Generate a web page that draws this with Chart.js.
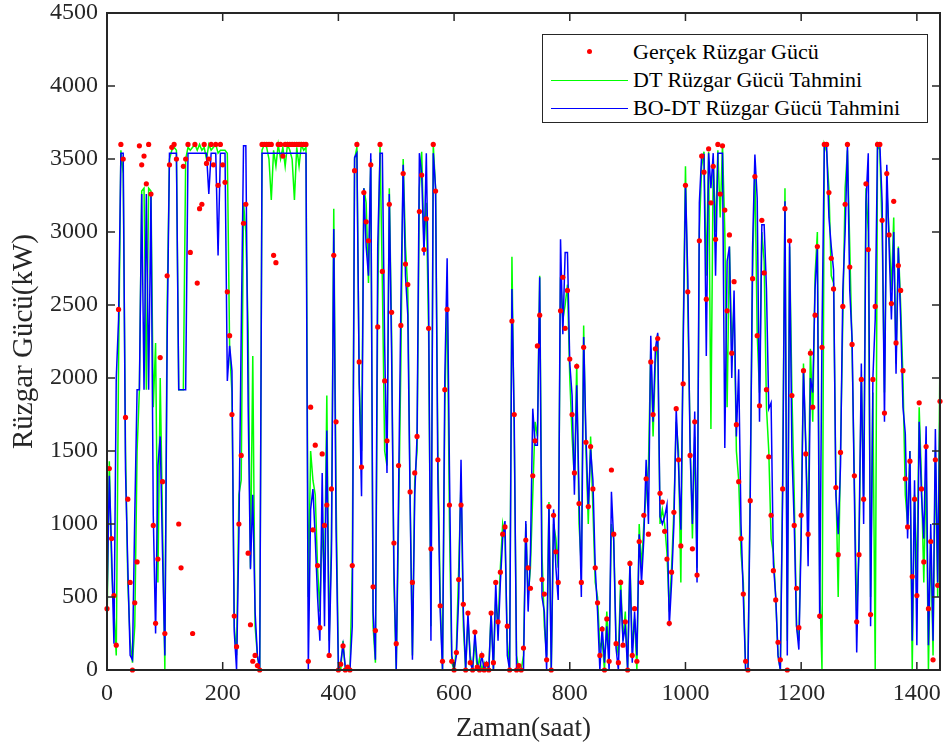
<!DOCTYPE html>
<html>
<head>
<meta charset="utf-8">
<script src="https://cdn.jsdelivr.net/npm/chart.js@4.4.0/dist/chart.umd.min.js"></script>
<style>
  body { margin: 0; background: #fff; }
  #wrap { position: relative; width: 948px; height: 749px; }
  #legend {
    position: absolute; left: 542px; top: 34px; width: 386px; height: 89px;
    border: 1px solid #262626; background: #fff; box-sizing: border-box;
    font-family: "Liberation Serif", "Times New Roman", serif; font-size: 22px; color: #000;
  }
  .row { position: absolute; left: 0; height: 29px; width: 100%; }
  .row span { position: absolute; left: 90px; top: 50%; transform: translateY(-50%); white-space: nowrap; }
  .swatch { position: absolute; left: 8px; width: 77px; top: 50%; }
  .dot { position: absolute; left: 44px; top: 50%; width: 5px; height: 5px; margin-top: -2.5px; border-radius: 50%; background: #ff0000; }
</style>
</head>
<body>
<div id="wrap">
  <canvas id="windChart" width="948" height="749"></canvas>
  <div id="legend">
    <div class="row" style="top:2px"><div class="dot"></div><span>Gerçek Rüzgar Gücü</span></div>
    <div class="row" style="top:30px"><div class="swatch" style="border-top:1.5px solid #00ff00"></div><span>DT Rüzgar Gücü Tahmini</span></div>
    <div class="row" style="top:58px"><div class="swatch" style="border-top:1.5px solid #0000ff"></div><span>BO-DT Rüzgar Gücü Tahmini</span></div>
  </div>
</div>
<script>
// one value every 4 hours, from hour 0 to hour 1440
const hourStep = 4;

const actualPower = [
  420, 1380, 900, 510, 170, 2470, 3600, 3500, 1730, 1170,
  600, 0, 460, 740, 3590, 3460, 3520, 3330, 3600, 3260,
  990, 320, 760, 2140, 1290, 250, 2700, 3460, 3580, 3600,
  3500, 1000, 700, 3450, 3500, 3600, 2860, 250, 3600, 2650,
  3160, 3190, 3600, 3470, 3500, 3600, 3460, 3600, 3320, 3600,
  3460, 3340, 2590, 2290, 1750, 370, 160, 1000, 1470, 3060,
  3190, 800, 310, 60, 100, 30, 0, 3600, 3600, 3600,
  3600, 3600, 2840, 2790, 3600, 3600, 3520, 3600, 3600, 3600,
  3600, 3600, 3600, 3600, 3600, 3600, 3600, 60, 1800, 960,
  1540, 715, 290, 1480, 990, 1130, 100, 1240, 2840, 1700,
  0, 40, 165, 0, 20, 0, 715, 3420, 3600, 2110,
  1390, 3270, 3070, 2940, 3460, 570, 270, 2350, 3600, 2730,
  1980, 1570, 3190, 2450, 870, 180, 1400, 2360, 3400, 2780,
  2640, 1220, 600, 1350, 1600, 3140, 3390, 2880, 3090, 2340,
  830, 3600, 3280, 1440, 440, 60, 1920, 2470, 1130, 60,
  0, 120, 620, 1130, 450, 0, 390, 50, 0, 260,
  20, 0, 100, 0, 40, 0, 390, 50, 600, 330,
  670, 930, 980, 300, 0, 2390, 1750, 0, 30, 0,
  150, 890, 700, 560, 1330, 1570, 2220, 2430, 620, 520,
  70, 1120, 0, 1060, 810, 600, 2460, 2690, 2340, 2600,
  2130, 1750, 1350, 2080, 1140, 600, 2210, 1560, 1120, 1530,
  1240, 700, 460, 100, 280, 0, 350, 60, 1370, 930,
  180, 50, 600, 170, 330, 0, 730, 100, 420, 60,
  880, 600, 1060, 1310, 930, 2110, 1750, 2200, 2270, 1210,
  1150, 950, 760, 320, 670, 1080, 1790, 1440, 850, 1960,
  3320, 2590, 1470, 830, 1700, 650, 2940, 3520, 3410, 2540,
  3570, 3200, 3450, 2950, 3600, 3260, 3590, 3150, 2460, 2980,
  2170, 2660, 1680, 1290, 900, 520, 60, 0, 1160, 2680,
  3380, 2290, 1810, 3080, 2720, 1920, 1460, 1060, 680, 480,
  190, 70, 1240, 3160, 0, 2940, 1880, 990, 560, 290,
  1060, 2050, 1480, 930, 2170, 1800, 2430, 2900, 370, 2210,
  3600, 3600, 3270, 2820, 2610, 1250, 790, 1490, 2490, 3190,
  3600, 2760, 2230, 1330, 330, 790, 1990, 1170, 3330, 2880,
  380, 1990, 2490, 3600, 3600, 3080, 1760, 3400, 2980, 2510,
  3210, 2240, 2770, 2600, 2050, 1310, 980, 1430, 640, 1170,
  510, 1830, 1240, 740, 1530, 420, 880, 70, 1440, 580, 1840
];

const dtForecast = [
  300, 1430, 700, 400, 100, 2100, 3560, 3400, 1500, 600,
  200, 50, 300, 1500, 1920, 3280, 3300, 1920, 3300, 3280,
  1800, 2240, 600, 2000, 1000, 0, 2500, 3500, 3560, 3580,
  3560, 1920, 1920, 1920, 3500, 3580, 3560, 3580, 3600, 3560,
  3600, 3560, 3580, 3500, 3600, 3560, 3580, 3600, 3540, 3560,
  3560, 3560, 3540, 2200, 1900, 300, 100, 1200, 1300, 3200,
  3000, 2330, 700, 2150, 300, 100, 0, 3560, 3600, 3580,
  3500, 3220, 3560, 3450, 3600, 3500, 3580, 3450, 3600, 3560,
  3500, 3220, 3580, 3450, 3600, 3560, 3580, 500, 1500, 1300,
  1200, 700, 400, 1000, 600, 1880, 200, 900, 3160, 1200,
  50, 0, 200, 0, 0, 0, 700, 3500, 3580, 1970,
  1500, 3300, 3200, 2650, 3500, 300, 50, 2500, 3600, 2650,
  1500, 1400, 3300, 2300, 600, 0, 1000, 2100, 3500, 2900,
  2600, 1200, 100, 1300, 1500, 3300, 3550, 2900, 3200, 2300,
  300, 3600, 3300, 1500, 500, 0, 1800, 2600, 1000, 50,
  0, 150, 700, 1300, 300, 0, 350, 100, 0, 200,
  0, 80, 0, 50, 0, 0, 400, 0, 500, 300,
  700, 1000, 900, 200, 0, 2830, 1600, 100, 0, 0,
  100, 1000, 500, 700, 1200, 1700, 1600, 2700, 800, 300,
  100, 1150, 0, 1000, 900, 700, 2690, 2400, 2500, 2640,
  2000, 1600, 1300, 2100, 1000, 700, 2360, 1500, 1000, 1600,
  1100, 600, 500, 150, 200, 0, 400, 100, 1000, 900,
  200, 100, 620, 200, 400, 0, 750, 150, 350, 0,
  1000, 700, 1000, 1200, 1400, 2200, 1600, 2100, 2300, 1000,
  1100, 1000, 800, 400, 700, 1100, 1700, 1500, 600, 2300,
  3450, 2500, 1600, 900, 1600, 700, 3000, 3450, 3550, 2700,
  3550, 1650, 3500, 3000, 3560, 3100, 3600, 3000, 1800, 2900,
  2200, 2500, 1500, 1300, 800, 600, 0, 0, 1300, 2700,
  3450, 2300, 1900, 3000, 2800, 1800, 1500, 900, 800, 500,
  100, 0, 1300, 3300, 200, 2900, 1900, 1200, 300, 200,
  1000, 2100, 1500, 1000, 2200, 1700, 2700, 3000, 600, 0,
  3600, 3550, 3300, 2700, 2650, 1300, 500, 1500, 2400, 3300,
  3560, 2900, 2200, 1300, 400, 800, 2000, 1200, 3300, 3000,
  500, 1900, 0, 3600, 3560, 3000, 1900, 3300, 3000, 2600,
  3100, 2100, 2900, 2500, 2000, 1200, 1000, 1500, 0, 1200,
  600, 1800, 1300, 600, 1400, 0, 900, 100, 1500, 500, 2190
];

const boDtForecast = [
  450, 1330, 800, 180, 2000, 2400, 3540, 3540, 1370, 700,
  100, 70, 1060, 1920, 1920, 3260, 1920, 3260, 1920, 3260,
  1060, 250, 1400, 1600, 800, 100, 2270, 3540, 3540, 3540,
  3540, 1920, 1920, 1920, 1920, 3540, 3540, 3540, 3540, 3540,
  3540, 3540, 3540, 3540, 3260, 3540, 3540, 3540, 2840, 3540,
  3540, 3540, 1980, 2220, 2050, 260, 0, 930, 2300, 3590,
  3590, 1810, 690, 1200, 400, 100, 0, 3540, 3540, 3540,
  3540, 3540, 3540, 3540, 3540, 3540, 3540, 3540, 3540, 3540,
  3540, 3540, 3540, 3540, 3540, 3540, 3540, 0, 1100, 1240,
  900, 500, 200, 1350, 300, 1640, 100, 800, 3020, 960,
  0, 50, 170, 20, 0, 0, 300, 3510, 3540, 1970,
  1190, 3300, 2900, 2700, 3540, 400, 70, 2900, 3540, 3540,
  2220, 1350, 3260, 2170, 700, 0, 1200, 2500, 3460, 2700,
  2430, 1150, 70, 1200, 1600, 3540, 3400, 2840, 3540, 2500,
  200, 3540, 3300, 1300, 400, 0, 2000, 2820, 1370, 100,
  0, 100, 500, 1440, 400, 0, 390, 50, 0, 260,
  50, 0, 100, 0, 50, 0, 390, 0, 600, 200,
  600, 900, 1020, 100, 0, 2610, 1700, 0, 0, 0,
  0, 1020, 400, 800, 1790, 1540, 1540, 2690, 500, 400,
  0, 1120, 0, 1100, 700, 480, 2950, 2300, 2860, 2860,
  2100, 1880, 1200, 1950, 1200, 500, 2280, 1600, 1100, 1510,
  1300, 700, 400, 0, 300, 50, 300, 0, 1220, 880,
  150, 0, 550, 200, 300, 0, 730, 50, 400, 100,
  930, 600, 900, 1440, 1000, 2290, 1700, 2200, 2310, 1050,
  1000, 1050, 1130, 300, 600, 1000, 1790, 1400, 960, 2200,
  3330, 2700, 1500, 1000, 1770, 600, 3200, 3530, 3530, 2150,
  3540, 3300, 3540, 2700, 3540, 3540, 3540, 1520, 2800, 2900,
  2000, 2600, 1600, 2060, 1000, 500, 0, 0, 1200, 2900,
  3530, 3230, 1700, 3050, 3050, 2610, 1790, 1830, 730, 500,
  100, 0, 1220, 3210, 100, 2940, 1500, 1000, 300, 140,
  900, 2060, 1550, 710, 2000, 1900, 2610, 2890, 350, 2300,
  3590, 3590, 3100, 2900, 2740, 1200, 930, 1400, 2600, 3000,
  3600, 2600, 2270, 1200, 120, 900, 2100, 1000, 3200, 3540,
  300, 2000, 2400, 3600, 3600, 3200, 1700, 3460, 2900, 2400,
  3000, 2030, 2890, 2400, 1800, 1620, 900, 1500, 200, 1300,
  170, 1700, 1200, 900, 1670, 170, 1000, 200, 1650, 600, 1840
];

const xTicks = [0, 200, 400, 600, 800, 1000, 1200, 1400];
const yTicks = [0, 500, 1000, 1500, 2000, 2500, 3000, 3500, 4000, 4500];

const hours = actualPower.map((_, i) => i * hourStep);
const toPoints = arr => arr.map((v, i) => ({x: hours[i], y: v}));

const axisColor = '#262626';
const serif = '"Liberation Serif", "Times New Roman", serif';
Chart.defaults.font.family = serif;

// MATLAB style box with inward ticks on all four sides
const boxPlugin = {
    id: 'matlabBox',
    afterDraw(chart) {
        const {ctx, chartArea: a, scales} = chart;
        ctx.save();
        ctx.strokeStyle = axisColor;
        ctx.lineWidth = 1.5;
        ctx.beginPath();
        xTicks.forEach(v => {
            const px = scales.x.getPixelForValue(v);
            ctx.moveTo(px, a.bottom); ctx.lineTo(px, a.bottom - 8);
            ctx.moveTo(px, a.top); ctx.lineTo(px, a.top + 8);
        });
        yTicks.forEach(v => {
            const py = scales.y.getPixelForValue(v);
            ctx.moveTo(a.left, py); ctx.lineTo(a.left + 8, py);
            ctx.moveTo(a.right, py); ctx.lineTo(a.right - 8, py);
        });
        ctx.stroke();
        ctx.lineWidth = 2;
        ctx.strokeRect(a.left, a.top, a.right - a.left, a.bottom - a.top);
        ctx.restore();
    }
};

new Chart(document.getElementById('windChart').getContext('2d'), {
    type: 'line',
    data: {
        datasets: [
            {
                label: 'Gerçek Rüzgar Gücü',
                data: toPoints(actualPower),
                showLine: false,
                pointRadius: 2.6,
                pointBorderWidth: 0,
                pointBackgroundColor: '#ff0000',
                borderColor: '#ff0000',
                clip: false,
                order: 0
            },
            {
                label: 'DT Rüzgar Gücü Tahmini',
                data: toPoints(dtForecast),
                borderColor: '#00ff00',
                borderWidth: 1.5,
                pointRadius: 0,
                tension: 0,
                order: 2
            },
            {
                label: 'BO-DT Rüzgar Gücü Tahmini',
                data: toPoints(boDtForecast),
                borderColor: '#0000ff',
                borderWidth: 1.5,
                pointRadius: 0,
                tension: 0,
                order: 1
            }
        ]
    },
    options: {
        responsive: false,
        animation: false,
        events: [],
        layout: { padding: { left: 0, right: 8, top: 13, bottom: 0 } },
        plugins: {
            legend: { display: false },
            tooltip: { enabled: false }
        },
        scales: {
            x: {
                type: 'linear',
                min: 0,
                max: 1440,
                afterBuildTicks: s => { s.ticks = xTicks.map(v => ({value: v})); },
                afterFit: s => {
                    s.height = 79;
                    s.paddingLeft = 0;
                    s.paddingRight = 0;
                },
                grid: { display: false, drawTicks: false },
                border: { display: false },
                ticks: {
                    padding: 12,
                    color: axisColor,
                    callback: v => String(v),
                    font: { family: serif, size: 24, lineHeight: 1 }
                },
                title: {
                    display: true,
                    text: 'Zaman(saat)',
                    color: axisColor,
                    padding: { top: 0, bottom: 4 },
                    font: { family: serif, size: 27 }
                }
            },
            y: {
                min: 0,
                max: 4500,
                afterBuildTicks: s => { s.ticks = yTicks.map(v => ({value: v})); },
                afterFit: s => {
                    s.width = 107;
                    s.paddingTop = 0;
                    s.paddingBottom = 0;
                },
                grid: { display: false, drawTicks: false },
                border: { display: false },
                ticks: {
                    padding: 9,
                    color: axisColor,
                    callback: v => String(v),
                    font: { family: serif, size: 24, lineHeight: 1 }
                },
                title: {
                    display: true,
                    text: 'Rüzgar Gücü(kW)',
                    color: axisColor,
                    padding: { top: 7, bottom: 0 },
                    font: { family: serif, size: 29 }
                }
            }
        }
    },
    plugins: [boxPlugin]
});
</script>
</body>
</html>
